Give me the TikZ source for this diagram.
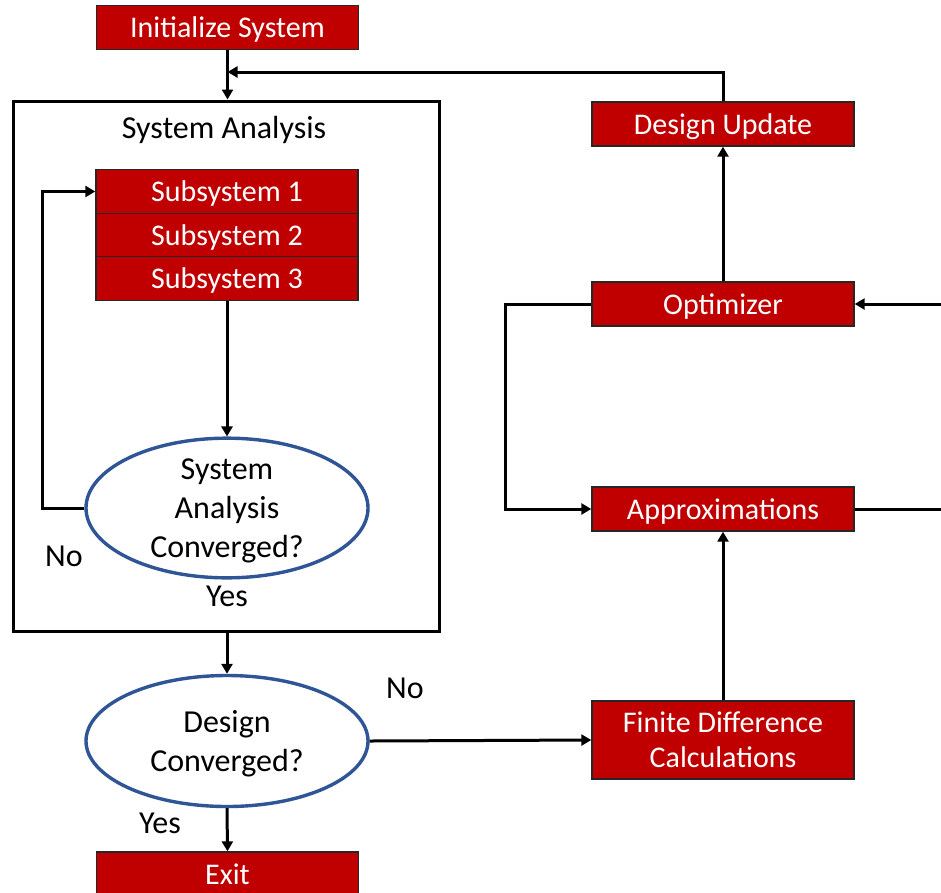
\documentclass[tikz,border=0pt]{standalone}
\usepackage{fontspec}
\setmainfont{Carlito}
\usetikzlibrary{arrows.meta,shapes.geometric}
\definecolor{boxred}{HTML}{C00000}
\definecolor{ellblue}{HTML}{2F5597}
\begin{document}
\begin{tikzpicture}[x=1pt,y=-1pt,
  redbox/.style={draw=black!85,line width=1.4pt,fill=boxred,text=white,minimum width=262pt,minimum height=44pt,inner sep=0pt,text depth=0pt,font=\fontsize{30}{35}\selectfont,align=center},
  decision/.style={ellipse,draw=ellblue,line width=3.4pt,minimum width=282pt,minimum height=131pt,inner sep=0pt,text depth=0pt,font=\fontsize{32}{39}\selectfont,align=center},
  conn/.style={line width=3pt,-{Triangle[length=10pt,width=11pt]}},
  plain/.style={line width=3pt},
  lbl/.style={font=\fontsize{32}{36}\selectfont}]
\clip (0,0) rectangle (941,892);
\fill[white] (0,0) rectangle (941,892);
% outer box
\node[draw,line width=3pt,minimum width=426pt,minimum height=530pt,inner sep=0pt] (sa) at (226,366) {};
\node[lbl] (satitle) at (224,130) {System Analysis};
% nodes
\node[redbox] (init) at (227.5,27.5) {Initialize System};
\node[redbox,minimum height=43.5pt] (s1) at (227,191.5) {Subsystem 1};
\node[redbox,minimum height=43.5pt] (s2) at (227,235) {Subsystem 2};
\node[redbox,minimum height=43.5pt] (s3) at (227,278.5) {Subsystem 3};
\node[decision] (d1) at (227,508) {System\\Analysis\\Converged?};
\node[decision] (d2) at (227,741) {Design\\Converged?};
\node[redbox] (exit) at (227.5,874) {Exit};
\node[redbox] (du) at (723,124) {Design Update};
\node[redbox] (opt) at (723,304) {Optimizer};
\node[redbox] (app) at (723,509) {Approximations};
\node[redbox,minimum height=78pt] (fd) at (723,740) {Finite Difference\\Calculations};
% labels
\node[lbl] (no1) at (64,556) {No};
\node[lbl] (yes1) at (227,596) {Yes};
\node[lbl] (no2) at (405,688) {No};
\node[lbl] (yes2) at (160,823) {Yes};
% coordinates
\coordinate (j1) at (227.5,72);
\coordinate (rt) at (950,304);
\coordinate (rb) at (950,509);
% connectors
\draw[conn] (init.south) -- (sa.north -| init.south);
\draw[conn] (du.north) |- (j1);
\draw[conn] (s3.south) -- (d1.north);
\draw[conn] (d1.west) -- ++(-42,0) |- (s1.west);
\draw[conn] (sa.south -| d2.north) -- (d2.north);
\draw[conn] (d2.east) -- (fd.west);
\draw[conn] (d2.south) -- (exit.north);
\draw[conn] (opt.north) -- (du.south);
\draw[conn] (fd.north) -- (app.south);
\draw[conn] (opt.west) -- ++(-86,0) |- (app.west);
\draw[plain] (app.east) -- (rb) -- (rt);
\draw[conn] (rt) -- (opt.east);
\end{tikzpicture}
\end{document}
